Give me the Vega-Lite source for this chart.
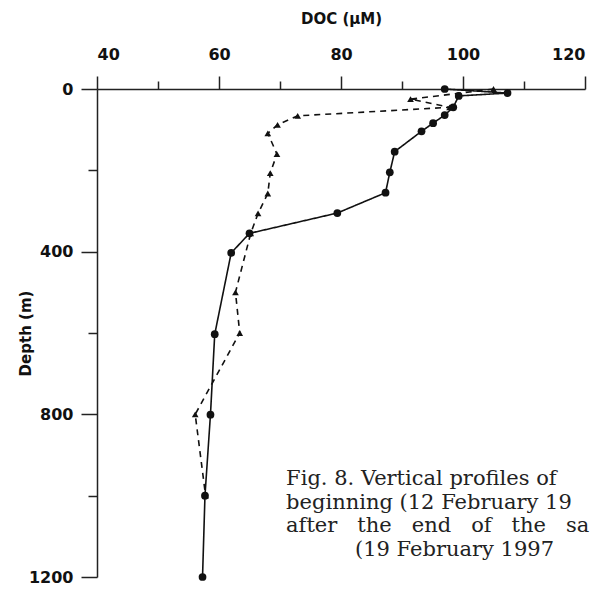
{
  "$schema": "https://vega.github.io/schema/vega-lite/v6.json",
  "width": 488,
  "height": 488,
  "autosize": "none",
  "padding": {"left": 97, "top": 89, "right": 18, "bottom": 12},
  "background": "white",
  "config": {
    "view": {"stroke": null},
    "axis": {
      "labelFont": "DejaVu Sans",
      "labelFontWeight": "bold",
      "labelFontSize": 16,
      "labelColor": "#111",
      "titleFont": "DejaVu Sans",
      "titleFontWeight": "bold",
      "titleFontSize": 15,
      "titleColor": "#111",
      "domainColor": "#222",
      "domainWidth": 1.5,
      "tickColor": "#222",
      "tickWidth": 1.5,
      "grid": false
    }
  },
  "datasets": {
    "profiles": [
      {"profile": "A", "depth": 0, "doc": 97.0},
      {"profile": "A", "depth": 10, "doc": 107.3},
      {"profile": "A", "depth": 17, "doc": 99.3},
      {"profile": "A", "depth": 45, "doc": 98.4},
      {"profile": "A", "depth": 64, "doc": 97.0},
      {"profile": "A", "depth": 84, "doc": 95.1},
      {"profile": "A", "depth": 104, "doc": 93.2},
      {"profile": "A", "depth": 154, "doc": 88.8},
      {"profile": "A", "depth": 205, "doc": 88.0},
      {"profile": "A", "depth": 255, "doc": 87.3},
      {"profile": "A", "depth": 305, "doc": 79.4},
      {"profile": "A", "depth": 355, "doc": 65.0},
      {"profile": "A", "depth": 403, "doc": 62.0},
      {"profile": "A", "depth": 603, "doc": 59.3},
      {"profile": "A", "depth": 801, "doc": 58.6},
      {"profile": "A", "depth": 1000, "doc": 57.7},
      {"profile": "A", "depth": 1200, "doc": 57.3},
      {"profile": "B", "depth": 0, "doc": 105.0},
      {"profile": "B", "depth": 25, "doc": 91.4},
      {"profile": "B", "depth": 45, "doc": 97.8},
      {"profile": "B", "depth": 66, "doc": 72.9},
      {"profile": "B", "depth": 88, "doc": 69.6},
      {"profile": "B", "depth": 109, "doc": 68.0},
      {"profile": "B", "depth": 160, "doc": 69.5},
      {"profile": "B", "depth": 207, "doc": 68.4},
      {"profile": "B", "depth": 257, "doc": 68.0},
      {"profile": "B", "depth": 306, "doc": 66.4},
      {"profile": "B", "depth": 355, "doc": 65.2},
      {"profile": "B", "depth": 500, "doc": 62.7},
      {"profile": "B", "depth": 600, "doc": 63.4},
      {"profile": "B", "depth": 800, "doc": 56.1},
      {"profile": "B", "depth": 1000, "doc": 57.8}
    ],
    "caption": [
      {"line": "Fig. 8. Vertical profiles of", "doc": 71.0, "depth": 974},
      {"line": "beginning (12 February 19", "doc": 71.0, "depth": 1032},
      {"line": "after\u00a0\u00a0\u00a0the\u00a0\u00a0\u00a0end\u00a0\u00a0\u00a0of\u00a0\u00a0\u00a0the\u00a0\u00a0\u00a0sa", "doc": 71.0, "depth": 1090},
      {"line": "(19 February 1997", "doc": 82.3, "depth": 1148}
    ]
  },
  "layer": [
    {
      "data": {"name": "profiles"},
      "mark": {"type": "line", "color": "#111", "strokeWidth": 1.6},
      "encoding": {
        "x": {
          "field": "doc", "type": "quantitative",
          "scale": {"domain": [40, 120], "nice": false, "zero": false},
          "axis": {
            "orient": "top",
            "title": "DOC (µM)",
            "titlePadding": 20,
            "values": [40, 50, 60, 70, 80, 90, 100, 110, 120],
            "labelExpr": "datum.value % 20 === 0 ? datum.label : ''",
            "tickSize": {"condition": {"test": "datum.value % 20 === 0", "value": 13}, "value": 8},
            "labelPadding": 14
          }
        },
        "y": {
          "field": "depth", "type": "quantitative",
          "scale": {"domain": [0, 1200], "nice": false, "reverse": true},
          "axis": {
            "title": "Depth (m)",
            "titlePadding": -5,
            "format": "d",
            "values": [0, 200, 400, 600, 800, 1000, 1200],
            "labelExpr": "datum.value % 400 === 0 ? datum.label : ''",
            "tickSize": {"condition": {"test": "datum.value % 400 === 0", "value": 16}, "value": 9},
            "labelPadding": 8
          }
        },
        "order": {"field": "depth", "type": "quantitative"},
        "detail": {"field": "profile"},
        "strokeDash": {
          "field": "profile", "type": "nominal",
          "scale": {"domain": ["A", "B"], "range": [[1, 0], [6, 5]]},
          "legend": null
        }
      }
    },
    {
      "data": {"name": "profiles"},
      "mark": {"type": "point", "filled": true, "color": "#111", "opacity": 1},
      "encoding": {
        "x": {"field": "doc", "type": "quantitative"},
        "y": {"field": "depth", "type": "quantitative"},
        "shape": {
          "field": "profile", "type": "nominal",
          "scale": {"domain": ["A", "B"], "range": ["circle", "triangle-up"]},
          "legend": null
        },
        "size": {
          "field": "profile", "type": "nominal",
          "scale": {"domain": ["A", "B"], "range": [60, 45]},
          "legend": null
        }
      }
    },
    {
      "data": {"name": "caption"},
      "mark": {"type": "text", "align": "left", "baseline": "alphabetic", "font": "DejaVu Serif", "fontSize": 21, "color": "#222"},
      "encoding": {
        "x": {"field": "doc", "type": "quantitative"},
        "y": {"field": "depth", "type": "quantitative"},
        "text": {"field": "line"}
      }
    }
  ]
}
